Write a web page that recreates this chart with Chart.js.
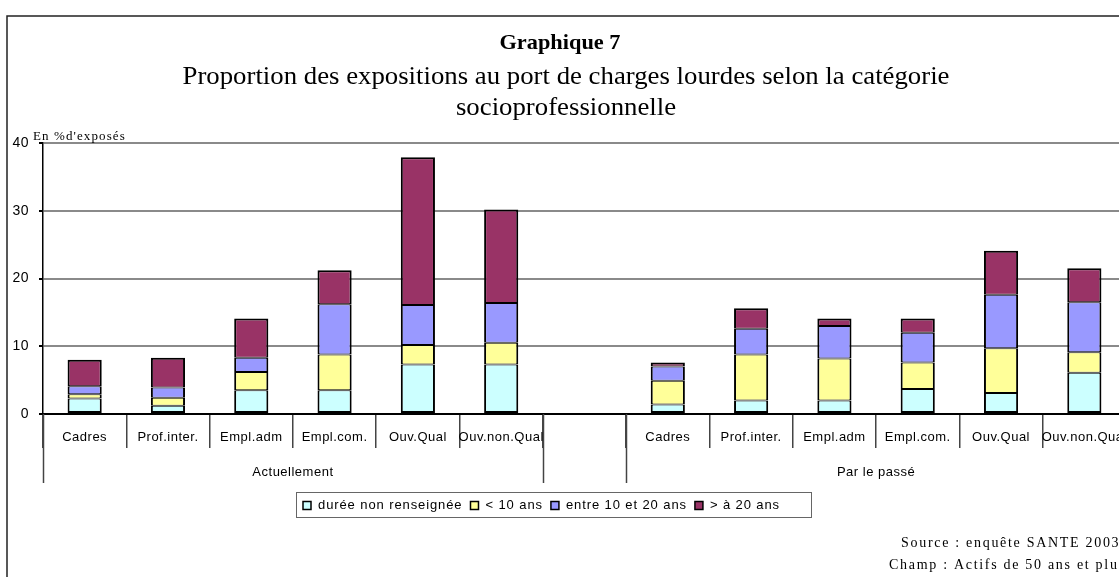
<!DOCTYPE html>
<html>
<head>
<meta charset="utf-8">
<script src="https://cdn.jsdelivr.net/npm/chart.js@4.4.1/dist/chart.umd.min.js"></script>
<style>
  html, body { margin: 0; padding: 0; background: #fff; overflow: hidden; width: 1119px; height: 577px; }
  canvas { display: block; }
</style>
</head>
<body>
<canvas id="chart" width="1160" height="577"></canvas>
<script>
// categories (empty slot separates the two groups)
const categories = ['Cadres', 'Prof.inter.', 'Empl.adm', 'Empl.com.', 'Ouv.Qual', 'Ouv.non.Qual', '',
                    'Cadres', 'Prof.inter.', 'Empl.adm', 'Empl.com.', 'Ouv.Qual', 'Ouv.non.Qual'];
const groupLabels = ['Actuellement', 'Par le passé'];
const groupRanges = [[0, 5], [7, 12]];
const seriesLabels = ['durée non renseignée', '< 10 ans', 'entre 10 et 20 ans', '> à 20 ans'];

// values in % d'exposés
const dureeNonRenseignee = [2.3, 1.2, 3.5, 3.5, 7.3, 7.3, null, 1.4, 2.0, 2.0, 3.7, 3.1, 6.1];
const moinsDe10Ans      = [0.6, 1.2, 2.7, 5.3, 2.9, 3.2, null, 3.5, 6.8, 6.2, 3.9, 6.6, 3.0];
const entre10et20Ans    = [1.2, 1.5, 2.1, 7.4, 5.9, 5.9, null, 2.1, 3.8, 4.8, 4.4, 7.9, 7.4];
const plusDe20Ans       = [3.9, 4.4, 5.8, 5.0, 21.8, 13.8, null, 0.6, 3.0, 1.1, 2.1, 6.5, 5.0];

const yTicks = [0, 10, 20, 30, 40];

const colors = ['#CCFFFF', '#FFFF99', '#9999FF', '#993366'];
const seriesData = [dureeNonRenseignee, moinsDe10Ans, entre10et20Ans, plusDe20Ans];

const SANS = '"Liberation Sans", Arial, sans-serif';
const SERIF = '"Liberation Serif", "Times New Roman", serif';

function spaced(ctx, text, x, y, spacing) {
  ctx.letterSpacing = spacing + 'px';
  ctx.fillText(text, x, y);
  ctx.letterSpacing = '0px';
}

// habillage : cadre, titres, niveaux de l'axe, légende, source
const decor = {
  id: 'decor',
  beforeDraw(chart) {
    const ctx = chart.ctx;
    ctx.save();
    ctx.fillStyle = '#fff';
    ctx.fillRect(0, 0, chart.width, chart.height);
    ctx.restore();
    ctx.letterSpacing = '0.5px'; // tick labels look spaced in the original
  },
  afterDraw(chart) {
    const ctx = chart.ctx;
    const xs = chart.scales.x;
    const area = chart.chartArea;
    ctx.save();
    ctx.letterSpacing = '0px';

    // cadre extérieur
    ctx.strokeStyle = '#222';
    ctx.lineWidth = 1.5;
    ctx.strokeRect(7, 16, 1300, 800);

    // titres
    ctx.fillStyle = '#000';
    ctx.textAlign = 'center';
    ctx.textBaseline = 'middle';
    ctx.font = 'bold 22px ' + SERIF;
    let w = ctx.measureText('Graphique 7').width;
    ctx.save();
    ctx.translate(560, 43);
    ctx.scale(121 / w, 1);
    ctx.fillText('Graphique 7', 0, 0);
    ctx.restore();

    const line1 = 'Proportion des expositions au port de charges lourdes selon la catégorie';
    ctx.font = '25px ' + SERIF;
    w = ctx.measureText(line1).width;
    const sx = 767 / w;
    ctx.save();
    ctx.translate(566, 77);
    ctx.scale(sx, 1);
    ctx.fillText(line1, 0, 0);
    ctx.restore();
    ctx.save();
    ctx.translate(566, 108);
    ctx.scale(sx, 1);
    ctx.fillText('socioprofessionnelle', 0, 0);
    ctx.restore();

    ctx.textAlign = 'left';
    ctx.font = '13px ' + SERIF;
    spaced(ctx, "En %d'exposés", 33, 137, 1.1);

    // second niveau de l'axe des x
    const half = (xs.getPixelForValue(1) - xs.getPixelForValue(0)) / 2;
    ctx.strokeStyle = '#444';
    ctx.lineWidth = 1.5;
    ctx.font = '13px ' + SANS;
    ctx.textAlign = 'center';
    groupRanges.forEach((r, i) => {
      const x0 = xs.getPixelForValue(r[0]) - half;
      const x1 = xs.getPixelForValue(r[1]) + half;
      [x0, x1].forEach(x => {
        ctx.beginPath();
        ctx.moveTo(Math.round(x) + 0.5, area.bottom);
        ctx.lineTo(Math.round(x) + 0.5, 483);
        ctx.stroke();
      });
      spaced(ctx, groupLabels[i], (x0 + x1) / 2, 472, 0.5);
    });

    // légende
    const box = {x: 296, y: 492, w: 515, h: 25};
    ctx.fillStyle = '#fff';
    ctx.fillRect(box.x, box.y, box.w, box.h);
    ctx.strokeStyle = '#666';
    ctx.lineWidth = 1;
    ctx.strokeRect(box.x + 0.5, box.y + 0.5, box.w, box.h);
    ctx.font = '13px ' + SANS;
    ctx.textAlign = 'left';
    ctx.letterSpacing = '0.9px';
    let lx = box.x + 7;
    const ly = box.y + box.h / 2 + 1;
    chart.data.datasets.forEach(ds => {
      ctx.fillStyle = ds.backgroundColor;
      ctx.fillRect(lx, ly - 4, 8, 8);
      ctx.strokeStyle = '#000';
      ctx.lineWidth = 1.5;
      ctx.strokeRect(lx, ly - 4, 8, 8);
      ctx.fillStyle = '#000';
      ctx.fillText(ds.label, lx + 15, ly);
      lx += 15 + ctx.measureText(ds.label).width + 8;
    });
    ctx.letterSpacing = '0px';

    // source
    ctx.font = '14px ' + SERIF;
    spaced(ctx, 'Source : enquête SANTE 2003', 901, 543, 1.7);
    spaced(ctx, 'Champ : Actifs de 50 ans et plus', 889, 565, 1.7);

    ctx.restore();
  }
};

const ctx = document.getElementById('chart').getContext('2d');
new Chart(ctx, {
  type: 'bar',
  data: {
    labels: categories,
    datasets: seriesData.map((d, i) => ({
      label: seriesLabels[i],
      data: d,
      backgroundColor: colors[i],
      borderColor: '#000',
      borderSkipped: false,
      borderWidth: {left: 2, right: 2, top: i === 3 ? 2 : 1, bottom: i === 0 ? 2 : 1},
      categoryPercentage: 1,
      barPercentage: 0.41
    }))
  },
  options: {
    responsive: false,
    animation: false,
    devicePixelRatio: 1,
    layout: {padding: {top: 143, right: 34, left: 0, bottom: 0}},
    scales: {
      x: {
        stacked: true,
        afterFit: s => { s.height = 163; },
        grid: {
          display: true,
          drawOnChartArea: false,
          offset: true,
          tickLength: 34,
          color: '#444',
          lineWidth: 1.5
        },
        border: {display: true, color: '#000', width: 1.5},
        ticks: {
          color: '#000',
          font: {family: SANS, size: 13},
          padding: -18,
          maxRotation: 0,
          autoSkip: false
        }
      },
      y: {
        stacked: true,
        min: 0,
        max: 40,
        afterFit: s => { s.width = 43; },
        afterBuildTicks: s => { s.ticks = yTicks.map(v => ({value: v})); },
        grid: {
          color: c => (c.tick && c.tick.value === 0) ? '#000' : '#8a8a8a',
          lineWidth: 2,
          tickColor: '#000',
          tickLength: 4
        },
        border: {display: true, color: '#000', width: 1.5},
        ticks: {
          color: '#000',
          font: {family: SANS, size: 14},
          padding: 10
        }
      }
    },
    plugins: {
      legend: {display: false},
      tooltip: {enabled: false},
      title: {display: false}
    }
  },
  plugins: [decor]
});
</script>
</body>
</html>
